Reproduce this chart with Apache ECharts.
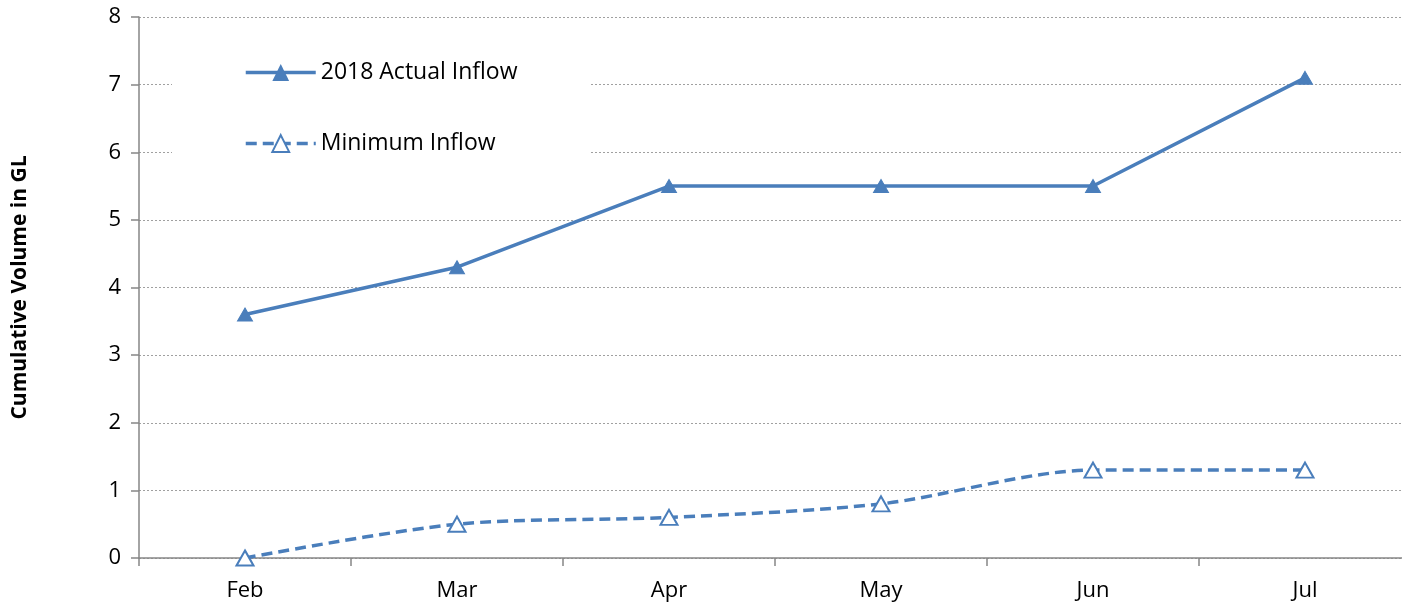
<!DOCTYPE html>
<html>
<head>
<meta charset="utf-8">
<script src="https://cdn.jsdelivr.net/npm/echarts@6/dist/echarts.min.js"></script>
<style>html,body{margin:0;padding:0;background:#fff}#c{width:1402px;height:607px}</style>
</head>
<body>
<div id="c"></div>
<script>
const categories = ['Feb', 'Mar', 'Apr', 'May', 'Jun', 'Jul'];
const actualInflow = [3.6, 4.3, 5.5, 5.5, 5.5, 7.1];
const minimumInflow = [0, 0.5, 0.6, 0.8, 1.3, 1.3];
const seriesNames = ['2018 Actual Inflow', 'Minimum Inflow'];
const yTicks = { min: 0, max: 8, interval: 1 };

const FONT = '"Open Sans", "Liberation Sans", sans-serif';
const BLUE = '#4a7ebb';
const chart = echarts.init(document.getElementById('c'), null, { renderer: 'canvas' });
chart.setOption({
  animation: false,
  backgroundColor: '#fff',
  textStyle: { fontFamily: FONT },
  grid: { left: 139, top: 17, height: 541, width: 1272, containLabel: false, outerBoundsMode: 'none' },
  legend: {
    orient: 'vertical',
    left: 172, top: 26,
    padding: [35, 72, 35, 72],
    backgroundColor: '#fff',
    itemWidth: 70, itemHeight: 21, itemGap: 48,
    textStyle: { fontSize: 23, color: '#000', fontFamily: FONT },
    data: [
      { name: seriesNames[0], lineStyle: { width: 3.5 } },
      { name: seriesNames[1], lineStyle: { width: 3.5 } }
    ]
  },
  xAxis: {
    type: 'category',
    data: categories,
    boundaryGap: true,
    axisLine: { lineStyle: { color: '#868686', width: 1.5 } },
    axisTick: { show: true, length: 8, alignWithLabel: false, lineStyle: { color: '#868686', width: 1.5 } },
    axisLabel: { fontSize: 22, color: '#000', margin: 22, fontFamily: FONT },
    splitLine: { show: false }
  },
  yAxis: {
    type: 'value',
    min: yTicks.min, max: yTicks.max, interval: yTicks.interval,
    name: 'Cumulative Volume in GL',
    nameLocation: 'middle',
    nameGap: 108,
    nameTextStyle: { fontSize: 21, fontWeight: 'bold', color: '#000', fontFamily: FONT },
    axisLine: { show: true, lineStyle: { color: '#868686', width: 1.5 } },
    axisTick: { show: true, length: 8, lineStyle: { color: '#868686', width: 1.5 } },
    axisLabel: { fontSize: 22, color: '#000', margin: 18, fontFamily: FONT },
    splitLine: { show: true, lineStyle: { color: '#a0a0a0', type: [2, 2], width: 1 } }
  },
  series: [
    {
      name: seriesNames[0],
      type: 'line',
      data: actualInflow,
      symbol: 'triangle',
      symbolSize: [15, 13],
      lineStyle: { color: BLUE, width: 3.5 },
      itemStyle: { color: BLUE, borderColor: BLUE },
      z: 3
    },
    {
      name: seriesNames[1],
      type: 'line',
      data: minimumInflow,
      smooth: 0.3,
      symbol: 'triangle',
      symbolSize: [17, 15],
      lineStyle: { color: BLUE, width: 3.5, type: [11, 6] },
      itemStyle: { color: '#fff', borderColor: BLUE, borderWidth: 2 },
      z: 3
    }
  ]
});
</script>
</body>
</html>
